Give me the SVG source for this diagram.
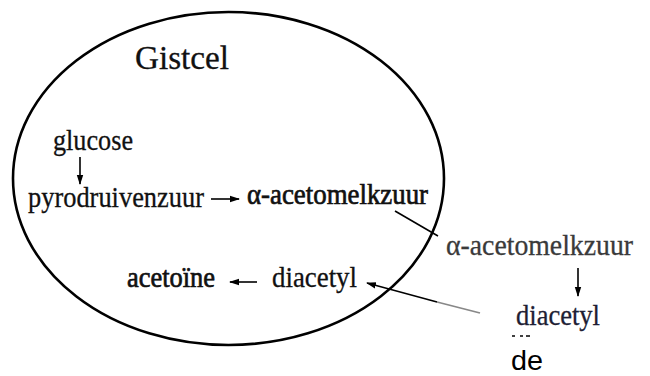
<svg xmlns="http://www.w3.org/2000/svg" width="650" height="376" viewBox="0 0 650 376">
<defs>
<marker id="ah" viewBox="0 0 10 10" refX="9" refY="5" markerWidth="10" markerHeight="10" markerUnits="userSpaceOnUse" orient="auto"><path d="M0,1.8 L10,5 L0,8.2 Z" fill="#000"/></marker>
</defs>
<style>
.t{font-family:"Liberation Serif","Times New Roman",serif;font-size:30px;fill:#111;stroke:#111;stroke-width:0.3}
.b{stroke-width:0.7}
.l{stroke:#000;stroke-width:1.6;fill:none}
</style>
<rect width="650" height="376" fill="#fff"/>
<g id="cell"><ellipse cx="228.5" cy="178.5" rx="215.5" ry="166.5" fill="none" stroke="#000" stroke-width="2.6"/></g>
<g id="gistcel"><text class="t" x="135" y="69" style="font-size:33px" textLength="94" lengthAdjust="spacingAndGlyphs">Gistcel</text></g>
<g id="glucose"><text class="t" x="53" y="150" textLength="80" lengthAdjust="spacingAndGlyphs">glucose</text></g>
<g id="pyro"><text class="t" x="28" y="207" textLength="176" lengthAdjust="spacingAndGlyphs">pyrodruivenzuur</text></g>
<g id="aam_in"><text class="t b" x="247" y="204" textLength="181" lengthAdjust="spacingAndGlyphs">α-acetomelkzuur</text></g>
<g id="acetoine"><text class="t b" x="127" y="287" textLength="88" lengthAdjust="spacingAndGlyphs">acetoïne</text></g>
<g id="diacetyl_in"><text class="t" x="272" y="287" textLength="85" lengthAdjust="spacingAndGlyphs">diacetyl</text></g>
<g id="aam_out"><text class="t" x="446" y="255" textLength="187" lengthAdjust="spacingAndGlyphs" style="fill:#3a3a3a;stroke:#3a3a3a;font-size:29px">α-acetomelkzuur</text></g>
<g id="diacetyl_out"><text class="t" x="516" y="325" textLength="84" lengthAdjust="spacingAndGlyphs" style="fill:#1e1e34;stroke:#1e1e34">diacetyl</text></g>
<g id="frag"><line x1="512" y1="336" x2="515" y2="336" stroke="#000" stroke-width="1.5"/><line x1="520" y1="336" x2="523" y2="336" stroke="#000" stroke-width="1.5"/><line x1="526" y1="336" x2="530" y2="336" stroke="#000" stroke-width="1.5"/></g>
<g id="de"><text x="511" y="370" textLength="32" lengthAdjust="spacingAndGlyphs" style="font-family:'Liberation Sans',Arial,sans-serif;font-size:27px;fill:#000">de</text></g>
<g id="connectors">
<line class="l" x1="80" y1="157" x2="80" y2="184" marker-end="url(#ah)"/>
<line class="l" x1="211" y1="199" x2="239" y2="199" marker-end="url(#ah)"/>
<line class="l" x1="395" y1="211" x2="438" y2="236"/>
<line class="l" x1="578" y1="268" x2="578" y2="296" marker-end="url(#ah)"/>
<line class="l" x1="257" y1="282" x2="230" y2="282" marker-end="url(#ah)"/>
<line x1="480" y1="313" x2="437" y2="302" stroke="#888" stroke-width="1.8"/>
<line class="l" x1="437" y1="302" x2="367" y2="283" marker-end="url(#ah)"/>
</g>
</svg>
